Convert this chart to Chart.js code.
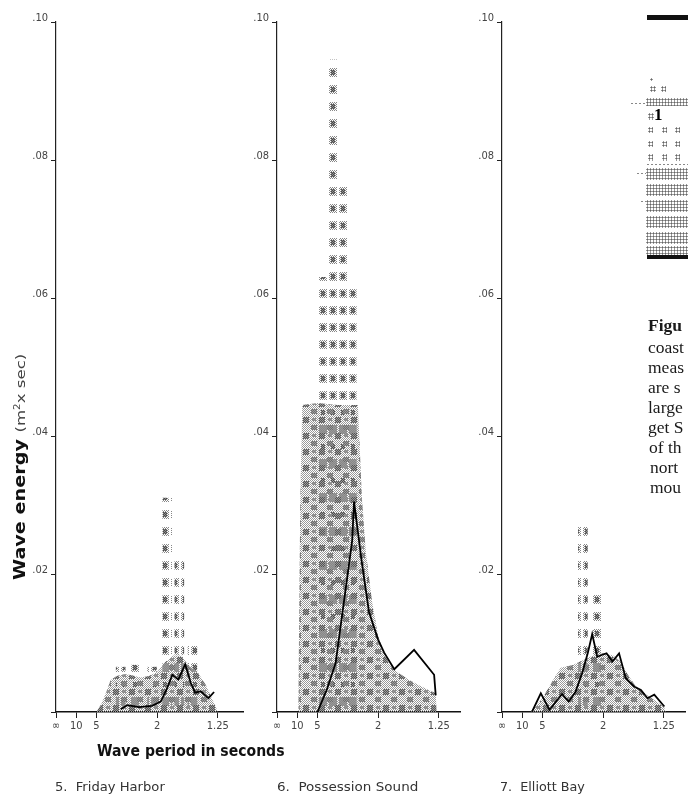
<!DOCTYPE html>
<html>
<head>
<meta charset="utf-8">
<script src="https://cdn.jsdelivr.net/npm/chart.js@4"></script>
<style>
  html, body { margin: 0; padding: 0; background: #fff; }
  body { width: 688px; height: 805px; overflow: hidden; position: relative; }
  canvas.panel { position: absolute; top: 0; }
  .txt { position: absolute; white-space: nowrap; display: inline-block; transform-origin: 0 0; }
  .sans { font-family: 'Liberation Sans Narrow', 'DejaVu Sans Condensed', 'Roboto', sans-serif; }
  .serif { font-family: 'Liberation Serif', 'DejaVu Serif', serif; font-size: 17.5px; color: #1a1a1a; line-height: 20px; }
  .blk { position: absolute; background: #111; }
  .dots { position: absolute;
          background-image: radial-gradient(circle, #666 0.9px, transparent 1.2px);
          background-size: 3px 3px; }
  .dots2 { position: absolute;
          background-image: radial-gradient(circle, #888 0.8px, transparent 1.1px);
          background-size: 4px 3px; }
</style>
</head>
<body>

<canvas id="c5" class="panel"></canvas>
<canvas id="c6" class="panel"></canvas>
<canvas id="c7" class="panel"></canvas>

<!-- axis titles and station names -->
<div id="ytitle" style="position:absolute; left:10px; top:580px; transform-origin:0 0; transform:rotate(-90deg); white-space:nowrap;">
  <span id="ytitleInner" class="sans" style="display:inline-block; transform-origin:0 0; line-height:16px; white-space:nowrap;"><b style="font-size:15px;color:#111;">Wave energy</b> <span style="font-size:13px;color:#444;">(m<sup style="font-size:8px;">2</sup>x sec)</span></span>
</div>
<div class="txt sans fit" data-w="188" style="left:97px; top:743px; font-size:15px; line-height:17px; font-weight:bold; color:#111;">Wave period in seconds</div>
<div class="txt sans fit" data-w="110" style="left:55px; top:779px; font-size:13px; line-height:16px; color:#333;">5.&nbsp;&nbsp;Friday Harbor</div>
<div class="txt sans fit" data-w="141" style="left:277px; top:779px; font-size:13px; line-height:16px; color:#333;">6.&nbsp;&nbsp;Possession Sound</div>
<div class="txt sans fit" data-w="85" style="left:500px; top:779px; font-size:13px; line-height:16px; color:#333;">7.&nbsp;&nbsp;Elliott Bay</div>

<!-- neighbouring figure at the right edge -->
<div class="blk" style="left:647px; top:15px; width:41px; height:5px;"></div>
<div class="dots" style="left:650px; top:78px; width:3px; height:3px;"></div>
<div class="dots" style="left:650px; top:86px; width:6px; height:6px;"></div>
<div class="dots" style="left:661px; top:86px; width:5px; height:6px;"></div>
<div class="dots2" style="left:630px; top:102px; width:16px; height:3px;"></div>
<div class="dots" style="left:646px; top:98px; width:42px; height:8px;"></div>
<div class="dots" style="left:648px; top:113px; width:6px; height:7px;"></div>
<div class="txt serif" style="left:654px; top:105px; font-weight:bold; font-size:17px; color:#000;">1</div>
<div class="dots" style="left:648px; top:127px; width:5px; height:6px;"></div>
<div class="dots" style="left:662px; top:127px; width:5px; height:6px;"></div>
<div class="dots" style="left:675px; top:127px; width:5px; height:6px;"></div>
<div class="dots" style="left:648px; top:141px; width:5px; height:6px;"></div>
<div class="dots" style="left:662px; top:141px; width:5px; height:6px;"></div>
<div class="dots" style="left:675px; top:141px; width:5px; height:6px;"></div>
<div class="dots" style="left:648px; top:154px; width:5px; height:7px;"></div>
<div class="dots" style="left:662px; top:154px; width:5px; height:7px;"></div>
<div class="dots" style="left:675px; top:154px; width:5px; height:7px;"></div>
<div class="dots2" style="left:646px; top:163px; width:42px; height:3px;"></div>
<div class="dots2" style="left:636px; top:172px; width:10px; height:3px;"></div>
<div class="dots" style="left:646px; top:168px; width:42px; height:12px;"></div>
<div class="dots" style="left:646px; top:184px; width:42px; height:12px;"></div>
<div class="dots2" style="left:640px; top:200px; width:6px; height:3px;"></div>
<div class="dots" style="left:646px; top:200px; width:42px; height:12px;"></div>
<div class="dots" style="left:646px; top:216px; width:42px; height:12px;"></div>
<div class="dots" style="left:646px; top:232px; width:42px; height:12px;"></div>
<div class="dots" style="left:646px; top:246px; width:42px; height:9px;"></div>
<div class="blk" style="left:647px; top:255px; width:41px; height:4px;"></div>

<!-- caption, cut by the page edge -->
<div class="txt serif" style="left:648px; top:315px; font-weight:bold;">Figu</div>
<div class="txt serif" style="left:648px; top:337px;">coast</div>
<div class="txt serif" style="left:648px; top:357px;">meas</div>
<div class="txt serif" style="left:648px; top:377px;">are s</div>
<div class="txt serif" style="left:648px; top:397px;">large</div>
<div class="txt serif" style="left:648px; top:417px;">get S</div>
<div class="txt serif" style="left:649px; top:437px;">of th</div>
<div class="txt serif" style="left:650px; top:457px;">nort</div>
<div class="txt serif" style="left:650px; top:477px;">mou</div>

<script>
// Axis ticks: wave period in seconds (plotted as frequency 1/period) and energy
const periodTicks = [Infinity, 10, 5, 2, 1.25];
const energyTicks = [0, 0.02, 0.04, 0.06, 0.08, 0.10];

// 5. Friday Harbor
const fridayLineFreq   = [0.32, 0.353, 0.41, 0.475, 0.518, 0.546, 0.576, 0.605, 0.639, 0.667, 0.688, 0.716, 0.754, 0.782];
const fridayLineEnergy = [0.0004, 0.001, 0.0007, 0.0009, 0.0015, 0.0032, 0.0054, 0.0047, 0.0069, 0.0042, 0.0028, 0.003, 0.002, 0.0029];
const fridayBandFreq   = [0.2, 0.225, 0.25, 0.27, 0.3, 0.34, 0.38, 0.42, 0.46, 0.5, 0.54, 0.58, 0.62, 0.66, 0.7, 0.74, 0.77, 0.79, 0.8];
const fridayBandEnergy = [0, 0.0012, 0.003, 0.0046, 0.0052, 0.0055, 0.0053, 0.005, 0.0052, 0.0058, 0.0072, 0.0082, 0.0082, 0.0066, 0.0058, 0.004, 0.002, 0.0008, 0];
const fridayPeakFreq   = [0.32, 0.39, 0.475, 0.55, 0.61, 0.675];
const fridayPeakEnergy = [0.0065, 0.0068, 0.0065, 0.031, 0.022, 0.0105];

// 6. Possession Sound
const possLineFreq   = [0.2, 0.246, 0.29, 0.35, 0.372, 0.381, 0.418, 0.455, 0.5, 0.53, 0.58, 0.678, 0.777, 0.785];
const possLineEnergy = [0, 0.0032, 0.0071, 0.0201, 0.0249, 0.0305, 0.022, 0.0145, 0.0105, 0.0086, 0.0062, 0.009, 0.0054, 0.0024];
const possBandFreq   = [0.105, 0.115, 0.125, 0.2, 0.3, 0.4, 0.42, 0.44, 0.47, 0.5, 0.53, 0.56, 0.6, 0.65, 0.7, 0.75, 0.785, 0.79];
const possBandEnergy = [0, 0.03, 0.0445, 0.0448, 0.0445, 0.0445, 0.031, 0.023, 0.016, 0.011, 0.0085, 0.0067, 0.0057, 0.0047, 0.0039, 0.0032, 0.0027, 0];
const possPeakFreq   = [0.23, 0.28, 0.33, 0.37];
const possPeakEnergy = [0.063, 0.0945, 0.077, 0.062];

// 7. Elliott Bay
const elliottLineFreq   = [0.148, 0.192, 0.235, 0.297, 0.33, 0.363, 0.396, 0.424, 0.446, 0.471, 0.496, 0.517, 0.546, 0.579, 0.612, 0.653, 0.687, 0.72, 0.753, 0.803];
const elliottLineEnergy = [0, 0.0027, 0.0003, 0.0026, 0.0015, 0.0029, 0.0056, 0.0085, 0.0113, 0.008, 0.0083, 0.0085, 0.0073, 0.0085, 0.0049, 0.0037, 0.0032, 0.002, 0.0025, 0.0008];
const elliottBandFreq   = [0.14, 0.2, 0.25, 0.29, 0.35, 0.4, 0.45, 0.5, 0.55, 0.59, 0.62, 0.66, 0.7, 0.75, 0.8, 0.81];
const elliottBandEnergy = [0, 0.002, 0.0045, 0.0064, 0.0068, 0.0075, 0.0082, 0.0085, 0.0082, 0.0072, 0.0055, 0.0038, 0.0028, 0.0018, 0.0008, 0];
const elliottPeakFreq   = [0.40, 0.47];
const elliottPeakEnergy = [0.027, 0.017];

const TICK_FONT = { family: "'Liberation Sans Narrow', 'DejaVu Sans Condensed', Roboto, sans-serif", size: 11 };

// Halftone-like fills
function makeTile(w, h, paint) {
  const c = document.createElement('canvas');
  c.width = w; c.height = h;
  const g = c.getContext('2d');
  paint(g);
  return g.createPattern(c, 'repeat');
}
function dotBlock(g, x0, y0, w, h, color, parity) {
  g.fillStyle = color;
  for (let y = y0; y < y0 + h; y++) for (let x = x0; x < x0 + w; x++) {
    if ((x + y) % 2 === parity) g.fillRect(x, y, 1, 1);
  }
}
const denseFill = makeTile(16, 16, g => {
  dotBlock(g, 0, 0, 16, 16, '#999', 0);
  dotBlock(g, 1, 1, 6, 6, '#555', 1);
  dotBlock(g, 9, 9, 6, 5, '#6e6e6e', 1);
  dotBlock(g, 10, 2, 4, 3, '#888', 1);
});
const blobFill = makeTile(10, 17, g => {
  dotBlock(g, 1, 0, 8, 9, '#888', 0);
  dotBlock(g, 3, 2, 4, 5, '#4a4a4a', 1);
});

const pts = (xs, ys) => xs.map((x, i) => ({ x, y: ys[i] }));

function drawPanel(id, left, axisW, xMax, line, band, peaks) {
  const plotW = Math.round(xMax * 202);
  const canvas = document.getElementById(id);
  canvas.width = axisW + plotW;
  canvas.height = 745;
  canvas.style.left = left + 'px';
  canvas.style.width = canvas.width + 'px';
  canvas.style.height = canvas.height + 'px';

  new Chart(canvas, {
    type: 'line',
    data: {
      datasets: [
        { type: 'line', data: pts(line[0], line[1]), borderColor: '#000', borderWidth: 1.8,
          pointRadius: 0, tension: 0, fill: false, order: 0 },
        { type: 'line', data: pts(band[0], band[1]), borderWidth: 0, borderColor: 'rgba(0,0,0,0)',
          backgroundColor: denseFill, pointRadius: 0, tension: 0, fill: 'origin', order: 1 },
        { type: 'bar', data: pts(peaks[0], peaks[1]), backgroundColor: blobFill, borderWidth: 0,
          barThickness: 9, grouped: false, order: 2 }
      ]
    },
    options: {
      responsive: false,
      animation: false,
      events: [],
      layout: { padding: { top: 22, left: 0, right: 0, bottom: 0 } },
      plugins: { legend: { display: false }, tooltip: { enabled: false } },
      scales: {
        x: {
          type: 'linear', min: 0, max: xMax, offset: false,
          afterFit: s => { s.height = 33; },
          afterBuildTicks: s => { s.ticks = periodTicks.map(p => ({ value: p === Infinity ? 0 : 1 / p })); },
          ticks: { autoSkip: false, maxRotation: 0, padding: 2, color: '#444', font: TICK_FONT,
                   callback: (v, i) => periodTicks[i] === Infinity ? '∞' : String(periodTicks[i]) },
          grid: { drawOnChartArea: false, drawTicks: true, tickLength: 6, color: '#222', lineWidth: 1, offset: false },
          border: { display: true, color: '#111', width: 1.5 }
        },
        y: {
          type: 'linear', min: 0, max: 0.1,
          afterFit: s => { s.width = axisW; },
          afterBuildTicks: s => { s.ticks = energyTicks.map(v => ({ value: v })); },
          ticks: { padding: 3, labelOffset: -4, color: '#444', font: TICK_FONT,
                   callback: v => v === 0 ? '' : v.toFixed(2).replace(/^0/, '') },
          grid: { drawOnChartArea: false, drawTicks: true, tickLength: 5, color: '#222', lineWidth: 1 },
          border: { display: true, color: '#222', width: 1.2 }
        }
      }
    }
  });
}

drawPanel('c5', 0, 56, 0.93,
  [fridayLineFreq, fridayLineEnergy], [fridayBandFreq, fridayBandEnergy], [fridayPeakFreq, fridayPeakEnergy]);
drawPanel('c6', 238, 39, 0.91,
  [possLineFreq, possLineEnergy], [possBandFreq, possBandEnergy], [possPeakFreq, possPeakEnergy]);
drawPanel('c7', 462, 40, 0.91,
  [elliottLineFreq, elliottLineEnergy], [elliottBandFreq, elliottBandEnergy], [elliottPeakFreq, elliottPeakEnergy]);

// Stretch the condensed labels to their set widths (layout widths, before any transform)
document.querySelectorAll('.fit').forEach(el => {
  el.style.transform = 'scaleX(' + (Number(el.dataset.w) / el.offsetWidth) + ')';
});
const yi = document.getElementById('ytitleInner');
yi.style.transform = 'scaleX(' + (226 / yi.offsetWidth) + ')';
</script>
</body>
</html>
